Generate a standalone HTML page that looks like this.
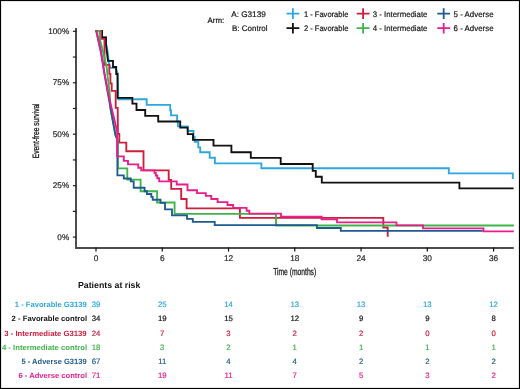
<!DOCTYPE html>
<html><head><meta charset="utf-8"><style>
html,body{margin:0;padding:0;background:#fff;}
svg{display:block;}
text{font-family:"Liberation Sans",sans-serif;text-rendering:geometricPrecision;}
text.r{stroke:currentColor;stroke-width:0.18px;}
svg{will-change:transform;}
</style></head><body>
<svg width="520" height="389" viewBox="0 0 520 389">
<rect x="0.5" y="0.5" width="519" height="388" fill="none" stroke="#000" stroke-width="1.2"/>
<line x1="76.0" y1="28.1" x2="76.0" y2="249" stroke="#4d4d4d" stroke-width="2"/>
<line x1="75" y1="248.0" x2="513.8" y2="248.0" stroke="#4d4d4d" stroke-width="2"/>
<line x1="72.9" y1="237.10" x2="76.5" y2="237.10" stroke="#222" stroke-width="1.2"/>
<line x1="72.9" y1="211.38" x2="76.5" y2="211.38" stroke="#222" stroke-width="1.2"/>
<line x1="72.9" y1="185.65" x2="76.5" y2="185.65" stroke="#222" stroke-width="1.2"/>
<line x1="72.9" y1="159.93" x2="76.5" y2="159.93" stroke="#222" stroke-width="1.2"/>
<line x1="72.9" y1="134.20" x2="76.5" y2="134.20" stroke="#222" stroke-width="1.2"/>
<line x1="72.9" y1="108.48" x2="76.5" y2="108.48" stroke="#222" stroke-width="1.2"/>
<line x1="72.9" y1="82.75" x2="76.5" y2="82.75" stroke="#222" stroke-width="1.2"/>
<line x1="72.9" y1="57.03" x2="76.5" y2="57.03" stroke="#222" stroke-width="1.2"/>
<line x1="72.9" y1="31.30" x2="76.5" y2="31.30" stroke="#222" stroke-width="1.2"/>
<text x="69.2" y="239.80" text-anchor="end" font-size="8.2" fill="#222" class="r" color="#222">0%</text>
<text x="69.2" y="188.35" text-anchor="end" font-size="8.2" fill="#222" class="r" color="#222">25%</text>
<text x="69.2" y="136.90" text-anchor="end" font-size="8.2" fill="#222" class="r" color="#222">50%</text>
<text x="69.2" y="85.45" text-anchor="end" font-size="8.2" fill="#222" class="r" color="#222">75%</text>
<text x="69.2" y="34.00" text-anchor="end" font-size="8.2" fill="#222" class="r" color="#222">100%</text>
<line x1="96.00" y1="247.5" x2="96.00" y2="251.6" stroke="#111" stroke-width="1.2"/>
<text x="96.00" y="261.4" text-anchor="middle" font-size="8.3" fill="#222" class="r" color="#222">0</text>
<line x1="162.26" y1="247.5" x2="162.26" y2="251.6" stroke="#111" stroke-width="1.2"/>
<text x="162.26" y="261.4" text-anchor="middle" font-size="8.3" fill="#222" class="r" color="#222">6</text>
<line x1="228.53" y1="247.5" x2="228.53" y2="251.6" stroke="#111" stroke-width="1.2"/>
<text x="228.53" y="261.4" text-anchor="middle" font-size="8.3" fill="#222" class="r" color="#222">12</text>
<line x1="294.79" y1="247.5" x2="294.79" y2="251.6" stroke="#111" stroke-width="1.2"/>
<text x="294.79" y="261.4" text-anchor="middle" font-size="8.3" fill="#222" class="r" color="#222">18</text>
<line x1="361.06" y1="247.5" x2="361.06" y2="251.6" stroke="#111" stroke-width="1.2"/>
<text x="361.06" y="261.4" text-anchor="middle" font-size="8.3" fill="#222" class="r" color="#222">24</text>
<line x1="427.32" y1="247.5" x2="427.32" y2="251.6" stroke="#111" stroke-width="1.2"/>
<text x="427.32" y="261.4" text-anchor="middle" font-size="8.3" fill="#222" class="r" color="#222">30</text>
<line x1="493.58" y1="247.5" x2="493.58" y2="251.6" stroke="#111" stroke-width="1.2"/>
<text x="493.58" y="261.4" text-anchor="middle" font-size="8.3" fill="#222" class="r" color="#222">36</text>
<text transform="translate(294.7,274.6) scale(0.68,1)" text-anchor="middle" font-size="9.9" fill="#111" stroke="#111" stroke-width="0.25">Time (months)</text>
<text transform="translate(38.5,130.8) rotate(-90) scale(0.72,1)" text-anchor="middle" font-size="9.2" fill="#111" stroke="#111" stroke-width="0.25">Event-free survival</text>
<text x="207.6" y="22.6" font-size="7.9" fill="#111" class="r" color="#111">Arm:</text>
<text x="231.2" y="17.3" font-size="8.2" fill="#111" class="r" color="#111">A: G3139</text>
<text x="232" y="31.2" font-size="8" fill="#111" class="r" color="#111">B: Control</text>
<path d="M286.50 13.60H299.30M292.90 8.30V18.90" stroke="#2ca8e0" stroke-width="1.8" fill="none"/>
<text x="303.9" y="17.10" font-size="8.1" textLength="44.51" lengthAdjust="spacingAndGlyphs" fill="#111" class="r" color="#111">1 - Favorable</text>
<path d="M286.50 28.20H299.30M292.90 22.90V33.50" stroke="#111111" stroke-width="1.8" fill="none"/>
<text x="303.9" y="31.30" font-size="8.1" textLength="44.51" lengthAdjust="spacingAndGlyphs" fill="#111" class="r" color="#111">2 - Favorable</text>
<path d="M356.70 13.60H369.50M363.10 8.30V18.90" stroke="#cf1d3e" stroke-width="1.8" fill="none"/>
<text x="372.8" y="17.10" font-size="8.1" textLength="54.64" lengthAdjust="spacingAndGlyphs" fill="#111" class="r" color="#111">3 - Intermediate</text>
<path d="M356.70 28.20H369.50M363.10 22.90V33.50" stroke="#3db54a" stroke-width="1.8" fill="none"/>
<text x="372.8" y="31.30" font-size="8.1" textLength="54.64" lengthAdjust="spacingAndGlyphs" fill="#111" class="r" color="#111">4 - Intermediate</text>
<path d="M437.30 13.60H450.10M443.70 8.30V18.90" stroke="#1f5b91" stroke-width="1.8" fill="none"/>
<text x="453.6" y="17.10" font-size="8.1" textLength="39.96" lengthAdjust="spacingAndGlyphs" fill="#111" class="r" color="#111">5 - Adverse</text>
<path d="M437.30 28.20H450.10M443.70 22.90V33.50" stroke="#e81e8c" stroke-width="1.8" fill="none"/>
<text x="453.6" y="31.30" font-size="8.1" textLength="39.96" lengthAdjust="spacingAndGlyphs" fill="#111" class="r" color="#111">6 - Adverse</text>
<text x="77.9" y="287.9" font-size="8.7" font-weight="bold" textLength="62.5" lengthAdjust="spacingAndGlyphs" fill="#111">Patients at risk</text>
<text x="86.65" y="307.40" text-anchor="end" font-size="7.62" font-weight="bold" textLength="71.85" lengthAdjust="spacingAndGlyphs" fill="#2ca8e0">1 - Favorable G3139</text>
<text x="96.00" y="307.40" text-anchor="middle" font-size="7.8" fill="#2ca8e0" class="r" color="#2ca8e0">39</text>
<text x="162.26" y="307.40" text-anchor="middle" font-size="7.8" fill="#2ca8e0" class="r" color="#2ca8e0">25</text>
<text x="228.53" y="307.40" text-anchor="middle" font-size="7.8" fill="#2ca8e0" class="r" color="#2ca8e0">14</text>
<text x="294.79" y="307.40" text-anchor="middle" font-size="7.8" fill="#2ca8e0" class="r" color="#2ca8e0">13</text>
<text x="361.06" y="307.40" text-anchor="middle" font-size="7.8" fill="#2ca8e0" class="r" color="#2ca8e0">13</text>
<text x="427.32" y="307.40" text-anchor="middle" font-size="7.8" fill="#2ca8e0" class="r" color="#2ca8e0">13</text>
<text x="493.58" y="307.40" text-anchor="middle" font-size="7.8" fill="#2ca8e0" class="r" color="#2ca8e0">12</text>
<text x="87.1" y="321.48" text-anchor="end" font-size="7.62" font-weight="bold" textLength="75.49" lengthAdjust="spacingAndGlyphs" fill="#111111">2 - Favorable control</text>
<text x="96.00" y="321.48" text-anchor="middle" font-size="7.8" fill="#111111" class="r" color="#111111">34</text>
<text x="162.26" y="321.48" text-anchor="middle" font-size="7.8" fill="#111111" class="r" color="#111111">19</text>
<text x="228.53" y="321.48" text-anchor="middle" font-size="7.8" fill="#111111" class="r" color="#111111">15</text>
<text x="294.79" y="321.48" text-anchor="middle" font-size="7.8" fill="#111111" class="r" color="#111111">12</text>
<text x="361.06" y="321.48" text-anchor="middle" font-size="7.8" fill="#111111" class="r" color="#111111">9</text>
<text x="427.32" y="321.48" text-anchor="middle" font-size="7.8" fill="#111111" class="r" color="#111111">9</text>
<text x="493.58" y="321.48" text-anchor="middle" font-size="7.8" fill="#111111" class="r" color="#111111">8</text>
<text x="86.65" y="335.56" text-anchor="end" font-size="7.62" font-weight="bold" textLength="82.35" lengthAdjust="spacingAndGlyphs" fill="#cf1d3e">3 - Intermediate G3139</text>
<text x="96.00" y="335.56" text-anchor="middle" font-size="7.8" fill="#cf1d3e" class="r" color="#cf1d3e">24</text>
<text x="162.26" y="335.56" text-anchor="middle" font-size="7.8" fill="#cf1d3e" class="r" color="#cf1d3e">7</text>
<text x="228.53" y="335.56" text-anchor="middle" font-size="7.8" fill="#cf1d3e" class="r" color="#cf1d3e">3</text>
<text x="294.79" y="335.56" text-anchor="middle" font-size="7.8" fill="#cf1d3e" class="r" color="#cf1d3e">2</text>
<text x="361.06" y="335.56" text-anchor="middle" font-size="7.8" fill="#cf1d3e" class="r" color="#cf1d3e">2</text>
<text x="427.32" y="335.56" text-anchor="middle" font-size="7.8" fill="#cf1d3e" class="r" color="#cf1d3e">0</text>
<text x="493.58" y="335.56" text-anchor="middle" font-size="7.8" fill="#cf1d3e" class="r" color="#cf1d3e">0</text>
<text x="87.1" y="349.64" text-anchor="end" font-size="7.62" font-weight="bold" textLength="85.15" lengthAdjust="spacingAndGlyphs" fill="#3db54a">4 - Intermediate control</text>
<text x="96.00" y="349.64" text-anchor="middle" font-size="7.8" fill="#3db54a" class="r" color="#3db54a">18</text>
<text x="162.26" y="349.64" text-anchor="middle" font-size="7.8" fill="#3db54a" class="r" color="#3db54a">3</text>
<text x="228.53" y="349.64" text-anchor="middle" font-size="7.8" fill="#3db54a" class="r" color="#3db54a">2</text>
<text x="294.79" y="349.64" text-anchor="middle" font-size="7.8" fill="#3db54a" class="r" color="#3db54a">1</text>
<text x="361.06" y="349.64" text-anchor="middle" font-size="7.8" fill="#3db54a" class="r" color="#3db54a">1</text>
<text x="427.32" y="349.64" text-anchor="middle" font-size="7.8" fill="#3db54a" class="r" color="#3db54a">1</text>
<text x="493.58" y="349.64" text-anchor="middle" font-size="7.8" fill="#3db54a" class="r" color="#3db54a">1</text>
<text x="86.65" y="363.72" text-anchor="end" font-size="7.62" font-weight="bold" textLength="65.2" lengthAdjust="spacingAndGlyphs" fill="#1f5b91">5 - Adverse G3139</text>
<text x="96.00" y="363.72" text-anchor="middle" font-size="7.8" fill="#1f5b91" class="r" color="#1f5b91">67</text>
<text x="162.26" y="363.72" text-anchor="middle" font-size="7.8" fill="#1f5b91" class="r" color="#1f5b91">11</text>
<text x="228.53" y="363.72" text-anchor="middle" font-size="7.8" fill="#1f5b91" class="r" color="#1f5b91">4</text>
<text x="294.79" y="363.72" text-anchor="middle" font-size="7.8" fill="#1f5b91" class="r" color="#1f5b91">4</text>
<text x="361.06" y="363.72" text-anchor="middle" font-size="7.8" fill="#1f5b91" class="r" color="#1f5b91">2</text>
<text x="427.32" y="363.72" text-anchor="middle" font-size="7.8" fill="#1f5b91" class="r" color="#1f5b91">2</text>
<text x="493.58" y="363.72" text-anchor="middle" font-size="7.8" fill="#1f5b91" class="r" color="#1f5b91">2</text>
<text x="87.1" y="377.80" text-anchor="end" font-size="7.62" font-weight="bold" textLength="68.6" lengthAdjust="spacingAndGlyphs" fill="#e81e8c">6 - Adverse control</text>
<text x="96.00" y="377.80" text-anchor="middle" font-size="7.8" fill="#e81e8c" class="r" color="#e81e8c">71</text>
<text x="162.26" y="377.80" text-anchor="middle" font-size="7.8" fill="#e81e8c" class="r" color="#e81e8c">19</text>
<text x="228.53" y="377.80" text-anchor="middle" font-size="7.8" fill="#e81e8c" class="r" color="#e81e8c">11</text>
<text x="294.79" y="377.80" text-anchor="middle" font-size="7.8" fill="#e81e8c" class="r" color="#e81e8c">7</text>
<text x="361.06" y="377.80" text-anchor="middle" font-size="7.8" fill="#e81e8c" class="r" color="#e81e8c">5</text>
<text x="427.32" y="377.80" text-anchor="middle" font-size="7.8" fill="#e81e8c" class="r" color="#e81e8c">3</text>
<text x="493.58" y="377.80" text-anchor="middle" font-size="7.8" fill="#e81e8c" class="r" color="#e81e8c">2</text>
<path d="M95.70 31.00 102.10 31.00 102.10 37.40 106.00 37.40 106.00 43.00 107.60 51.50 108.60 60.80 109.20 64.00 110.20 67.80 115.30 67.80 117.60 73.00 117.90 80.00 118.30 99.20 146.70 99.20 146.70 104.80 170.20 104.80 170.20 110.40 171.00 110.40 171.00 115.30 177.10 115.30 177.10 121.40 177.90 121.40 177.90 126.40 187.70 126.40 187.70 131.00 193.50 131.00 193.50 136.80 194.70 136.80 194.70 141.80 198.30 141.80 198.30 147.30 200.20 147.30 200.20 152.20 209.70 152.20 209.70 157.70 214.90 157.70 214.90 163.30 261.40 163.30 261.40 168.20 448.80 168.20 448.80 173.30 512.80 173.30 512.80 179.00" stroke="#2ca8e0" stroke-width="1.85" fill="none" stroke-linejoin="miter"/>
<path d="M95.70 31.00 102.10 31.00 102.10 37.40 106.00 37.40 106.00 45.00 108.00 60.80 113.00 60.80 113.00 67.00 116.20 67.00 116.20 74.00 117.50 74.00 117.50 97.80 132.40 97.80 132.40 103.60 136.50 103.60 136.50 110.00 145.20 110.00 145.20 115.80 158.20 115.80 158.20 121.50 180.20 121.50 180.20 127.60 187.70 127.60 187.70 134.10 193.00 134.10 193.00 139.90 213.50 139.90 213.50 145.60 231.40 145.60 231.40 152.20 250.80 152.20 250.80 157.90 280.70 157.90 280.70 164.00 312.70 164.00 312.70 170.90 315.80 170.90 315.80 176.70 321.80 176.70 321.80 182.60 459.40 182.60 459.40 188.40 513.60 188.40" stroke="#111111" stroke-width="1.85" fill="none" stroke-linejoin="miter"/>
<path d="M95.70 31.00 101.20 31.00 101.20 38.80 104.50 38.80 104.50 64.90 109.30 64.90 109.30 73.80 110.40 73.80 110.40 83.50 111.70 83.50 111.70 90.90 115.70 90.90 115.70 107.90 117.70 107.90 117.90 133.90 119.30 133.90 119.30 142.60 126.30 142.60 126.30 151.20 143.50 151.20 143.50 170.30 168.70 170.30 168.70 179.90 171.20 179.90 171.20 188.80 181.20 188.80 181.20 199.00 186.60 199.00 186.60 208.30 239.90 208.30 239.90 217.80 383.30 217.80 383.30 227.50 387.70 227.50 387.70 236.80" stroke="#cf1d3e" stroke-width="1.85" fill="none" stroke-linejoin="miter"/>
<path d="M95.70 31.00 99.50 31.00 99.70 38.70 103.40 53.00 106.80 68.00 107.80 78.00 109.40 90.00 110.00 98.00 110.30 108.00 115.50 135.00 117.90 140.00 117.90 168.30 127.30 168.30 127.30 179.60 140.60 179.60 140.60 191.20 157.10 191.20 157.10 202.50 174.60 202.50 174.60 213.90 276.00 213.90 276.00 225.50 513.80 225.50" stroke="#3db54a" stroke-width="1.85" fill="none" stroke-linejoin="miter"/>
<path d="M95.70 31.00 96.30 31.00 101.30 53.00 104.50 74.00 108.20 95.00 115.40 135.00 117.40 140.00 117.40 175.40 123.80 175.40 123.80 178.50 130.80 178.50 130.80 181.30 133.70 181.30 133.70 187.70 144.60 187.70 144.60 191.20 146.90 191.20 146.90 194.00 151.30 194.00 151.30 196.90 152.70 196.90 152.70 199.70 160.50 199.70 160.50 202.80 165.00 202.80 165.00 209.30 172.00 209.30 172.00 215.40 187.00 215.40 187.00 218.90 192.80 218.90 192.80 221.80 214.70 221.80 214.70 225.10 316.90 225.10 316.90 228.00 340.80 228.00 340.80 230.90 482.80 230.90" stroke="#1f5b91" stroke-width="1.85" fill="none" stroke-linejoin="miter"/>
<path d="M95.70 31.00 96.30 31.00 101.00 53.00 104.50 74.00 109.00 97.00 116.80 130.00 117.10 130.00 117.10 156.30 123.80 156.30 123.80 160.80 128.00 160.80 128.00 164.30 138.30 164.30 138.30 167.70 141.20 167.70 141.20 170.40 154.50 170.40 154.50 172.80 155.80 172.80 155.80 175.50 157.30 175.50 157.30 178.20 159.20 178.20 159.20 181.40 176.70 181.40 176.70 184.50 187.50 184.50 187.50 190.20 197.00 190.20 197.00 193.10 205.80 193.10 205.80 195.90 211.30 195.90 211.30 199.00 217.60 199.00 217.60 202.10 227.50 202.10 227.50 205.00 233.10 205.00 233.10 207.90 246.60 207.90 246.60 210.70 249.30 210.70 249.30 213.60 281.00 213.60 281.00 216.60 321.60 216.60 321.60 219.40 337.00 219.40 337.00 222.40 396.50 222.40 396.50 225.40 423.00 225.40 423.00 228.30 483.50 228.30 483.50 231.30 513.80 231.30" stroke="#e81e8c" stroke-width="1.85" fill="none" stroke-linejoin="miter"/>
</svg>
</body></html>
